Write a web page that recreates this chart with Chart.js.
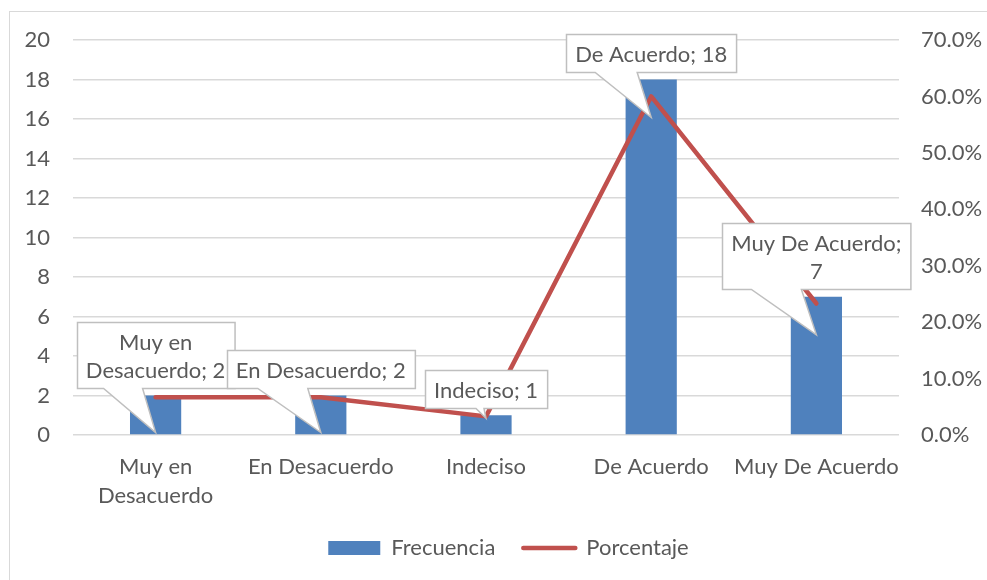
<!DOCTYPE html>
<html>
<head>
<meta charset="utf-8">
<script src="https://cdn.jsdelivr.net/npm/chart.js@4.4.0/dist/chart.umd.min.js"></script>
<style>
  html, body { margin: 0; padding: 0; background: #fff; }
  canvas { display: block; }
</style>
</head>
<body>
<canvas id="chart" width="987" height="580"></canvas>
<script>
// Data
const categories = ['Muy en Desacuerdo', 'En Desacuerdo', 'Indeciso', 'De Acuerdo', 'Muy De Acuerdo'];
const tickLabels = [['Muy en', 'Desacuerdo'], 'En Desacuerdo', 'Indeciso', 'De Acuerdo', 'Muy De Acuerdo'];
const frecuencia = [2, 2, 1, 18, 7];
const porcentaje = [0.067, 0.067, 0.033, 0.600, 0.233];
const seriesNames = ['Frecuencia', 'Porcentaje'];
const leftMax = 20, leftStep = 2;
const rightMax = 0.7, rightStep = 0.1;

const FONT = 'Lato, "Open Sans", sans-serif';
const TEXT = '#595959';
const FONT_SIZE = 22;

// Callout bubbles: where the line breaks, gap above bar top, pointer base/tip (px)
const callouts = [
  { breakAfter: 2, gap: 8, base: [-52, -13], tip: 37 },
  { breakAfter: 0, gap: 8, base: [-63, -13], tip: 37 },
  { breakAfter: 0, gap: 7, base: [-10, -2], tip: 3 },
  { breakAfter: 0, gap: 8, base: [-56, -14], tip: 38 },
  { breakAfter: 3, gap: 8, base: [-65, -15], tip: 38 }
];

// White background and the light frame around the chart
const framePlugin = {
  id: 'frame',
  beforeDraw(chart) {
    const ctx = chart.ctx;
    ctx.save();
    ctx.fillStyle = '#fff';
    ctx.fillRect(0, 0, chart.width, chart.height);
    ctx.strokeStyle = '#D9D9D9';
    ctx.lineWidth = 1;
    ctx.strokeRect(9.5, 11.5, chart.width, chart.height);
    ctx.restore();
  }
};

// the legend sits a bit right of the canvas centre in the original
const legendShift = {
  id: 'legendShift',
  afterLayout(chart) {
    chart.legend.left += 15;
    chart.legend.right += 15;
  }
};

// Excel-like data label callouts
const calloutPlugin = {
  id: 'callouts',
  afterDatasetsDraw(chart) {
    const ctx = chart.ctx;
    const xs = chart.scales.x, ys = chart.scales.y;
    const lineH = 28, padX = 9, padY = 5;
    ctx.save();
    ctx.font = FONT_SIZE + 'px ' + FONT;
    ctx.textAlign = 'center';
    ctx.textBaseline = 'middle';
    callouts.forEach((c, i) => {
      const words = (categories[i] + '; ' + frecuencia[i]).split(' ');
      const lines = c.breakAfter
        ? [words.slice(0, c.breakAfter).join(' '), words.slice(c.breakAfter).join(' ')]
        : [words.join(' ')];
      const x = xs.getPixelForValue(i);
      const y = ys.getPixelForValue(frecuencia[i]);
      const w = Math.max(...lines.map(l => ctx.measureText(l).width)) + padX * 2;
      const h = lines.length * lineH + padY * 2;
      const left = Math.round(x - w / 2) + 0.5;
      const bottom = Math.round(y - c.gap) + 0.5;
      const top = bottom - h;
      const right = left + w;

      ctx.beginPath();
      ctx.moveTo(left, top);
      ctx.lineTo(right, top);
      ctx.lineTo(right, bottom);
      ctx.lineTo(x + c.base[1], bottom);
      ctx.lineTo(x, y + c.tip);
      ctx.lineTo(x + c.base[0], bottom);
      ctx.lineTo(left, bottom);
      ctx.closePath();
      ctx.fillStyle = '#fff';
      ctx.fill();
      ctx.strokeStyle = '#BFBFBF';
      ctx.lineWidth = 1.5;
      ctx.stroke();

      ctx.fillStyle = TEXT;
      lines.forEach((l, k) => {
        ctx.fillText(l, x, top + padY + lineH * (k + 0.5) + 1);
      });
    });
    ctx.restore();
  }
};

const ctx = document.getElementById('chart').getContext('2d');
new Chart(ctx, {
  data: {
    labels: tickLabels,
    datasets: [
      {
        type: 'line',
        label: seriesNames[1],
        data: porcentaje,
        yAxisID: 'y1',
        borderColor: '#C0504D',
        backgroundColor: '#C0504D',
        borderWidth: 4.5,
        borderCapStyle: 'round',
        borderJoinStyle: 'round',
        pointRadius: 0,
        tension: 0,
        order: 1
      },
      {
        type: 'bar',
        label: seriesNames[0],
        data: frecuencia,
        yAxisID: 'y',
        backgroundColor: '#4F81BD',
        categoryPercentage: 0.5,
        barPercentage: 0.62,
        order: 2
      }
    ]
  },
  options: {
    responsive: false,
    animation: false,
    devicePixelRatio: 1,
    layout: { padding: { top: 40, left: 0, right: 0, bottom: 11 } },
    scales: {
      x: {
        grid: { display: false },
        border: { display: false },
        ticks: {
          color: TEXT,
          font: { family: FONT, size: FONT_SIZE, lineHeight: 1.3 },
          padding: 10,
          maxRotation: 0,
          autoSkip: false
        },
        afterFit(scale) { scale.height = 74; }
      },
      y: {
        position: 'left',
        min: 0,
        max: leftMax,
        grid: { color: '#D9D9D9', lineWidth: 1.5, drawTicks: false },
        border: { display: false },
        ticks: {
          stepSize: leftStep,
          color: TEXT,
          font: { family: FONT, size: FONT_SIZE },
          padding: 23
        },
        afterFit(scale) { scale.width = 73; }
      },
      y1: {
        position: 'right',
        min: 0,
        max: rightMax,
        grid: { display: false, drawTicks: false },
        border: { display: false },
        ticks: {
          stepSize: rightStep,
          color: TEXT,
          font: { family: FONT, size: FONT_SIZE },
          padding: 22,
          callback: v => (v * 100).toFixed(1) + '%'
        },
        afterFit(scale) { scale.width = 88; }
      }
    },
    plugins: {
      tooltip: { enabled: false },
      legend: {
        position: 'bottom',
        labels: {
          color: TEXT,
          font: { family: FONT, size: FONT_SIZE },
          usePointStyle: true,
          boxWidth: 52,
          boxHeight: 14,
          pointStyleWidth: 52,
          padding: 28,
          generateLabels(chart) {
            return [
              { text: seriesNames[0], pointStyle: 'rect', fillStyle: '#4F81BD', strokeStyle: '#4F81BD', lineWidth: 0, fontColor: TEXT, datasetIndex: 1 },
              { text: seriesNames[1], pointStyle: 'line', fillStyle: '#C0504D', strokeStyle: '#C0504D', lineWidth: 4.5, lineCap: 'round', fontColor: TEXT, datasetIndex: 0 }
            ];
          }
        }
      }
    }
  },
  plugins: [framePlugin, legendShift, calloutPlugin]
});
</script>
</body>
</html>
